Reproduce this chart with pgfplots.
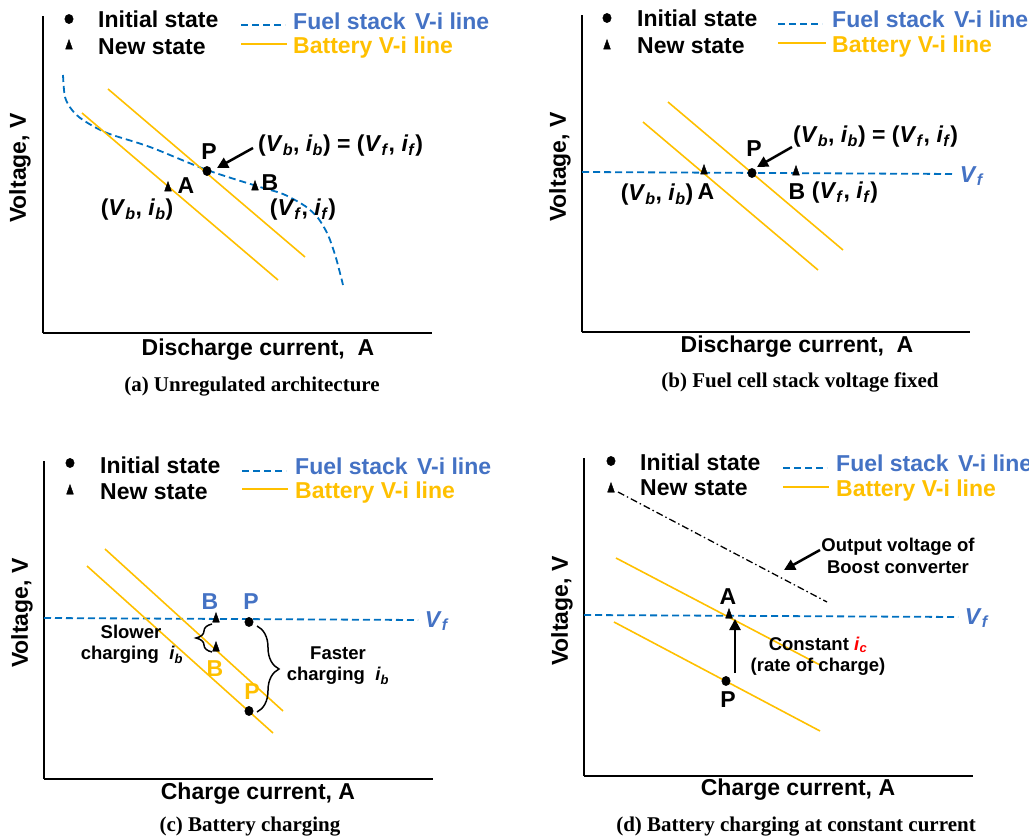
\documentclass[border=0pt]{standalone}
\usepackage{fontspec}
\setmainfont{Liberation Sans}
\newfontfamily\capfont{Liberation Serif}
\usepackage{pgfplots}
\pgfplotsset{compat=1.18}
\usetikzlibrary{arrows.meta,decorations.pathreplacing}
\definecolor{fsblue}{HTML}{0070C0}
\definecolor{txtblue}{HTML}{4472C4}
\definecolor{batt}{HTML}{FFC000}
\newcommand{\Lg}{\fontsize{23}{27}\selectfont\bfseries}
\newcommand{\Md}{\fontsize{18.5}{22}\selectfont\bfseries}
\newcommand{\Cp}{\capfont\fontsize{21}{25}\selectfont\bfseries}
\newcommand{\pr}[2]{(\textit{V}\textsubscript{\textit{#1}}, \textit{i}\textsubscript{\textit{#2}})}
\newcommand{\Vf}{\textit{V}\textsubscript{\textit{f}}}
\pgfplotsset{
 panel/.style={x=1pt,y=1pt,axis lines=left,axis line style={-,line width=2pt,black},
   xtick=\empty,ytick=\empty,clip=false,anchor=south west},
 fuel/.style={color=fsblue,line width=1.8pt,dash pattern=on 7pt off 4pt},
 bat/.style={color=batt,line width=1.6pt},
 mydot/.style={only marks,mark=*,mark size=4.7pt,black,mark options={xscale=0.9}},
 mytri/.style={only marks,mark=triangle*,mark size=5pt,black,mark options={xscale=0.8,yscale=1.3}},
}
\tikzset{bigarrow/.style={line width=2.5pt,-{Triangle[length=11pt,width=11pt]}},
  every node/.append style={inner sep=0pt}}
\begin{document}
\begin{tikzpicture}
\path[use as bounding box] (0,0) rectangle (1029pt,-837pt);
% ---------------- (a)
\begin{axis}[panel,xmin=43,xmax=432,ymin=-333,ymax=-16,at={(43pt,-333pt)}]
\addplot[mydot] coordinates {(69,-19)};
\addplot[mytri] coordinates {(69,-46)};
\addplot[fuel] coordinates {(241,-25)(285,-25)};
\addplot[bat] coordinates {(241,-44)(287,-44)};
\addplot[fuel,smooth] coordinates {(63,-75)(65,-97)(72,-110)(83,-120)(107,-133)(150,-147)(207,-170)(260,-187)(283,-194)(305,-206)(318,-218)(328,-235)(336,-258)(343,-285)};
\addplot[bat] coordinates {(108,-89)(305,-257)};
\addplot[bat] coordinates {(82,-113)(278,-280)};
\addplot[mydot] coordinates {(207,-171)};
\addplot[mytri] coordinates {(168,-188)(255,-187)};
\node[anchor=west] at (axis cs:98,-19) {\Lg Initial state};
\node[anchor=west] at (axis cs:98,-47) {\Lg New state};
\node[anchor=west,text=txtblue] at (axis cs:293,-21) {\Lg Fuel stack\hspace{3pt} V-i line};
\node[anchor=west,text=batt] at (axis cs:293,-48) {\Lg Battery V-i line};
\draw[bigarrow] (axis cs:253,-148) -- (axis cs:217,-168);
\node at (axis cs:209,-152) {\Lg P};
\node[anchor=west] at (axis cs:258,-146) {\Lg \pr{b}{b} = \pr{f}{f}};
\node at (axis cs:186,-186) {\Lg A};
\node at (axis cs:270,-183) {\Lg B};
\node at (axis cs:137,-210) {\Lg \pr{b}{b}};
\node at (axis cs:303,-210) {\Lg \pr{f}{f}};
\node at (axis cs:258,-350) {\Lg Discharge current,\ \ A};
\node[rotate=90] at (axis cs:20,-168) {\Lg Voltage, V};
\node at (axis cs:252,-387) {\Cp (a) Unregulated architecture};
\end{axis}
% ---------------- (b)
\begin{axis}[panel,xmin=582,xmax=970,ymin=-332,ymax=-15,at={(582pt,-332pt)}]
\addplot[mydot] coordinates {(607,-18)};
\addplot[mytri] coordinates {(607,-46)};
\addplot[fuel] coordinates {(778,-24)(822,-24)};
\addplot[bat] coordinates {(778,-43)(826,-43)};
\addplot[fuel] coordinates {(582,-172)(955,-174)};
\addplot[bat] coordinates {(668,-102)(843,-250)};
\addplot[bat] coordinates {(643,-122)(818,-270)};
\addplot[mydot] coordinates {(752,-173)};
\addplot[mytri] coordinates {(704,-171)(796,-172)};
\node[anchor=west] at (axis cs:637,-18) {\Lg Initial state};
\node[anchor=west] at (axis cs:637,-46) {\Lg New state};
\node[anchor=west,text=txtblue] at (axis cs:832,-19) {\Lg Fuel stack\hspace{3pt} V-i line};
\node[anchor=west,text=batt] at (axis cs:832,-47) {\Lg Battery V-i line};
\node[text=txtblue] at (axis cs:972,-176) {\Lg \Vf};
\draw[bigarrow] (axis cs:792,-147) -- (axis cs:757,-167);
\node at (axis cs:754,-149) {\Lg P};
\node[anchor=west] at (axis cs:793,-137) {\Lg \pr{b}{b} = \pr{f}{f}};
\node at (axis cs:706,-192) {\Lg A};
\node at (axis cs:797,-192) {\Lg B};
\node at (axis cs:657,-195) {\Lg \pr{b}{b}};
\node at (axis cs:845,-193) {\Lg \pr{f}{f}};
\node at (axis cs:797,-347) {\Lg Discharge current,\ \ A};
\node[rotate=90] at (axis cs:560,-167) {\Lg Voltage, V};
\node at (axis cs:800,-382) {\Cp (b) Fuel cell stack voltage fixed};
\end{axis}
% ---------------- (c)
\begin{axis}[panel,xmin=44,xmax=433,ymin=-779,ymax=-461,at={(44pt,-779pt)}]
\addplot[mydot] coordinates {(70,-463)};
\addplot[mytri] coordinates {(70,-491)};
\addplot[fuel] coordinates {(242,-471)(286,-471)};
\addplot[bat] coordinates {(242,-489)(288,-489)};
\addplot[fuel] coordinates {(44,-618)(418,-620)};
\addplot[bat] coordinates {(105,-549)(283,-711)};
\addplot[bat] coordinates {(87,-566)(273,-733)};
\addplot[mydot] coordinates {(249,-622)(249,-711)};
\addplot[mytri] coordinates {(216,-619)(216,-648)};
\node[anchor=west] at (axis cs:100,-465) {\Lg Initial state};
\node[anchor=west] at (axis cs:100,-492) {\Lg New state};
\node[anchor=west,text=txtblue] at (axis cs:295,-466) {\Lg Fuel stack\hspace{3pt} V-i line};
\node[anchor=west,text=batt] at (axis cs:295,-493) {\Lg Battery V-i line};
\node[text=txtblue] at (axis cs:437,-621) {\Lg \Vf};
\node[text=txtblue] at (axis cs:251,-602) {\Lg P};
\node[text=txtblue] at (axis cs:210,-602) {\Lg B};
\node[text=batt] at (axis cs:215,-669) {\Lg B};
\node[text=batt] at (axis cs:252,-692) {\Lg P};
\draw[line width=1.5pt,decorate,decoration={brace,amplitude=16pt}] (axis cs:212,-652) -- (axis cs:212,-624);
\draw[line width=1.5pt,decorate,decoration={brace,amplitude=22pt}] (axis cs:257,-626) -- (axis cs:257,-712);
\node at (axis cs:131,-632) {\Md Slower};
\node at (axis cs:132,-655) {\Md charging\ \ \textit{i}\textsubscript{\textit{b}}};
\node at (axis cs:338,-653) {\Md Faster};
\node at (axis cs:338,-676) {\Md charging\ \ \textit{i}\textsubscript{\textit{b}}};
\node at (axis cs:258,-794) {\Lg Charge current, A};
\node[rotate=90] at (axis cs:22,-613) {\Lg Voltage, V};
\node at (axis cs:250,-827) {\Cp (c) Battery charging};
\end{axis}
% ---------------- (d)
\begin{axis}[panel,xmin=584,xmax=973,ymin=-776,ymax=-458,at={(584pt,-776pt)}]
\addplot[mydot] coordinates {(611,-461)};
\addplot[mytri] coordinates {(611,-489)};
\addplot[fuel] coordinates {(783,-468)(827,-468)};
\addplot[bat] coordinates {(783,-487)(829,-487)};
\addplot[black,line width=1.3pt,dash pattern=on 7pt off 3pt on 1.5pt off 3pt] coordinates {(618,-492)(827,-602)};
\addplot[bat] coordinates {(616,-558)(820,-665)};
\addplot[bat] coordinates {(614,-622)(820,-731)};
\addplot[fuel] coordinates {(584,-615)(958,-617)};
\addplot[mytri] coordinates {(729,-615)};
\addplot[mydot] coordinates {(726,-681)};
\node[anchor=west] at (axis cs:640,-462) {\Lg Initial state};
\node[anchor=west] at (axis cs:640,-488) {\Lg New state};
\node[anchor=west,text=txtblue] at (axis cs:836,-463) {\Lg Fuel stack\hspace{3pt} V-i line};
\node[anchor=west,text=batt] at (axis cs:836,-491) {\Lg Battery V-i line};
\draw[bigarrow] (axis cs:820,-550) -- (axis cs:784,-570);
\node at (axis cs:898,-547) {\Md Output voltage of};
\node at (axis cs:898,-567) {\Md Boost converter};
\node[text=txtblue] at (axis cs:977,-618) {\Lg \Vf};
\node at (axis cs:728,-597) {\Lg A};
\node at (axis cs:728,-700) {\Lg P};
\draw[bigarrow] (axis cs:735,-673) -- (axis cs:735,-619);
\node at (axis cs:818,-645) {\Md Constant \textcolor{red}{\textit{i}\textsubscript{\textit{c}}}};
\node at (axis cs:818,-667) {\Md (rate of charge)};
\node at (axis cs:798,-790) {\Lg Charge current, A};
\node[rotate=90] at (axis cs:562,-611) {\Lg Voltage, V};
\node at (axis cs:796,-827) {\Cp (d) Battery charging at constant current};
\end{axis}
\end{tikzpicture}
\end{document}
